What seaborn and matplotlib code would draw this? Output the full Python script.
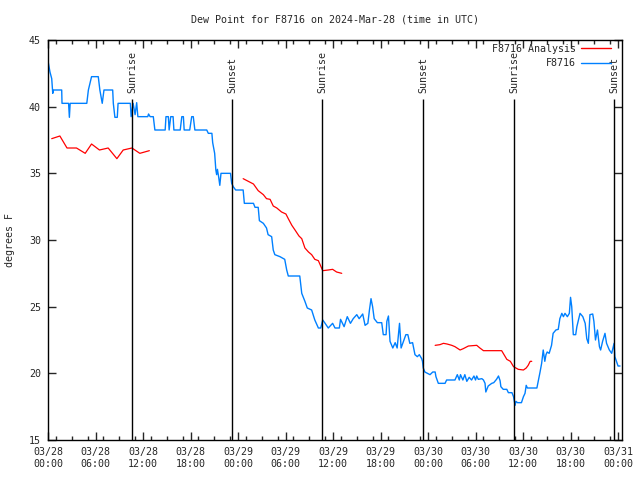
import numpy as np
import pandas as pd
import matplotlib
matplotlib.use("Agg")
import matplotlib.pyplot as plt
import matplotlib.dates as mdates
from matplotlib.lines import Line2D
import seaborn as sns

start = pd.Timestamp("2024-03-28 00:00")

# Observed dew point (hours since start, degF)
obs_hours = [0.04, 0.25, 0.47, 0.6, 0.7, 1.73, 1.77, 2.6, 2.7, 2.8, 4.9, 5.1, 5.5, 6.35, 6.55, 6.85,
             7.07, 8.17, 8.25, 8.45, 8.75, 8.85, 10.4, 10.5, 10.75, 11.0, 11.2, 11.35, 12.6, 12.7,
             12.9, 13.3, 13.5, 14.8, 14.9, 15.2, 15.3, 15.5, 15.8, 15.9, 16.7, 16.9, 17.1, 17.2,
             17.9, 18.15, 18.35, 18.55, 20.05, 20.25, 20.7, 20.8, 21.05, 21.2, 21.3, 21.4, 21.55,
             21.7, 21.85, 23.05, 23.2, 23.4, 23.7, 24.65, 24.8, 25.95, 26.15, 26.55, 26.7, 27.2,
             27.6, 27.8, 28.25, 28.45, 28.65, 29.3, 29.9, 30.15, 30.35, 31.8, 32.05, 32.45, 32.75,
             33.3, 33.7, 34.15, 34.45, 34.7, 35.0, 35.4, 35.95, 36.25, 36.8, 36.95, 37.4, 37.8,
             38.2, 38.55, 39.0, 39.3, 39.75, 40.05, 40.4, 40.6, 40.8, 41.0, 41.2, 41.6, 42.15,
             42.35, 42.7, 42.8, 43.0, 43.2, 43.55, 43.85, 44.1, 44.4, 44.6, 44.9, 45.2, 45.45,
             45.7, 46.05, 46.35, 46.65, 46.9, 47.2, 47.3, 47.4, 47.6, 48.25, 48.6, 48.9, 49.0,
             49.3, 50.15, 50.35, 51.2, 51.4, 51.7, 51.95, 52.1, 52.4, 52.65, 52.9, 53.2, 53.5,
             53.8, 54.0, 54.15, 54.35, 54.8, 55.0, 55.2, 55.3, 55.6, 56.05, 56.3, 56.65, 56.9,
             57.1, 57.2, 57.5, 57.95, 58.15, 58.6, 58.8, 59.0, 59.1, 59.3, 59.8, 60.05, 60.25,
             60.4, 60.55, 61.75, 61.95, 62.15, 62.35, 62.55, 62.75, 62.9, 63.05, 63.3, 63.6,
             63.8, 64.15, 64.45, 64.65, 64.9, 65.1, 65.3, 65.6, 65.85, 66.0, 66.15, 66.35, 66.65,
             66.8, 67.0, 67.2, 67.55, 67.85, 68.05, 68.25, 68.45, 68.8, 68.95, 69.15, 69.4,
             69.65, 69.8, 70.05, 70.35, 70.55, 70.9, 71.2, 71.5, 71.6, 71.8, 72.0, 72.25]
obs_values = [43.3, 42.6, 42.1, 41.0, 41.25, 41.25, 40.25, 40.25, 39.2, 40.25, 40.25, 41.25, 42.25,
              42.25, 41.25, 40.25, 41.25, 41.25, 40.25, 39.2, 39.2, 40.25, 40.25, 39.25, 40.25,
              39.4, 40.3, 39.25, 39.25, 39.45, 39.25, 39.25, 38.25, 38.25, 39.25, 39.25, 38.25,
              39.25, 39.25, 38.25, 38.25, 39.25, 39.25, 38.25, 38.25, 39.25, 39.25, 38.25, 38.25,
              38.0, 38.0, 37.3, 36.5, 35.25, 34.9, 35.3, 34.75, 34.1, 35.0, 35.0, 34.25, 34.0,
              33.75, 33.75, 32.75, 32.75, 32.45, 32.45, 31.45, 31.25, 30.9, 30.4, 30.25, 29.25,
              28.9, 28.75, 28.55, 27.75, 27.3, 27.3, 26.0, 25.4, 24.9, 24.75, 24.0, 23.4, 23.4,
              24.0, 23.75, 23.4, 23.75, 23.4, 23.4, 24.05, 23.5, 24.25, 23.75, 24.1, 24.4, 24.1,
              24.45, 23.6, 23.75, 24.75, 25.6, 25.0, 24.1, 23.8, 23.8, 22.9, 22.9, 23.9, 24.3,
              22.4, 21.9, 22.3, 21.9, 23.75, 21.9, 22.4, 22.9, 22.9, 22.25, 22.3, 21.4, 21.25,
              21.4, 21.1, 20.9, 20.4, 20.1, 19.9, 20.1, 20.1, 19.75, 19.25, 19.25, 19.5, 19.5,
              19.5, 19.9, 19.5, 19.9, 19.5, 19.9, 19.4, 19.7, 19.5, 19.8, 19.5, 19.8, 19.55,
              19.6, 19.5, 19.25, 18.6, 19.05, 19.25, 19.3, 19.55, 19.8, 19.45, 19.0, 18.8, 18.8,
              18.55, 18.55, 18.25, 17.6, 17.9, 17.8, 17.8, 18.25, 18.5, 19.1, 18.9, 18.9, 19.5,
              20.1, 20.75, 21.75, 20.9, 21.4, 21.6, 21.5, 22.1, 23.0, 23.25, 23.3, 24.1, 24.5,
              24.25, 24.5, 24.25, 24.5, 25.7, 25.0, 22.9, 22.9, 23.5, 24.0, 24.5, 24.25, 23.75,
              22.6, 22.25, 24.4, 24.45, 23.9, 22.5, 23.25, 22.0, 21.75, 22.4, 23.0, 22.25, 21.75,
              21.5, 22.25, 21.25, 20.9, 20.55, 20.55]

# Analysis dew point, three separate runs
ana1_hours = [0.47, 1.5, 2.4, 3.6, 4.7, 5.5, 6.5, 7.6, 8.7, 9.5, 10.6, 11.6, 12.8]
ana1_values = [37.6, 37.8, 36.9, 36.9, 36.5, 37.2, 36.75, 36.9, 36.1, 36.75, 36.9, 36.5, 36.7]
ana2_hours = [24.65, 25.3, 25.95, 26.55, 27.2, 27.6, 28.05, 28.45, 28.9, 29.5, 30.05, 30.35, 30.8,
              31.2, 31.7, 32.05, 32.45, 32.9, 33.3, 33.7, 34.15, 34.7, 35.4, 35.95, 36.45, 37.1]
ana2_values = [34.6, 34.4, 34.2, 33.7, 33.4, 33.1, 33.05, 32.55, 32.4, 32.1, 31.95, 31.6, 31.1,
               30.75, 30.3, 30.1, 29.4, 29.1, 28.9, 28.55, 28.45, 27.7, 27.75, 27.8, 27.6, 27.5]
ana3_hours = [48.9, 49.5, 49.95, 50.4, 51.0, 51.4, 52.05, 52.45, 53.1, 54.15, 54.55, 55.0, 55.6,
              57.3, 57.6, 57.95, 58.4, 58.8, 59.4, 60.05, 60.4, 60.65, 60.9, 61.1]
ana3_values = [22.1, 22.15, 22.25, 22.2, 22.1, 22.0, 21.75, 21.85, 22.05, 22.1, 21.9, 21.7, 21.7,
               21.7, 21.4, 21.05, 20.9, 20.5, 20.3, 20.25, 20.4, 20.6, 20.9, 20.9]

sunrise_hours = [10.6, 34.65, 58.85]
sunset_hours = [23.25, 47.35, 71.5]

title = "Dew Point for F8716 on 2024-Mar-28 (time in UTC)"
ylabel = "degrees F"
obs_label = "F8716"
ana_label = "F8716 Analysis"

obs_color = "#0080ff"
ana_color = "#ff0000"
FS = 7.2


def to_time(hours):
    return start + pd.to_timedelta(np.asarray(hours, dtype=float), unit="h")


sns.set_style("ticks")
plt.rcParams["font.family"] = ["DejaVu Sans Mono", "DejaVu Sans"]

fig = plt.figure(figsize=(6.4, 4.8), dpi=100)
ax = fig.add_axes([48 / 640, 40 / 480, 574 / 640, 400 / 480])

obs_df = pd.DataFrame({"time": to_time(obs_hours), "value": obs_values})
sns.lineplot(data=obs_df, x="time", y="value", ax=ax, color=obs_color, lw=1.0,
             estimator=None, sort=False, legend=False)

for hrs, vals in [(ana1_hours, ana1_values), (ana2_hours, ana2_values), (ana3_hours, ana3_values)]:
    df = pd.DataFrame({"time": to_time(hrs), "value": vals})
    sns.lineplot(data=df, x="time", y="value", ax=ax, color=ana_color, lw=0.9,
                 estimator=None, sort=False, legend=False)

# Sunrise / sunset markers
for hrs, name in [(sunrise_hours, "Sunrise"), (sunset_hours, "Sunset")]:
    times = to_time(hrs)
    ax.vlines(times, 15, 40.6, color="black", lw=1.0)
    for t in times:
        ax.text(t, 41.0, name, rotation=90, ha="center", va="bottom", fontsize=FS)

ax.set_xlim(start, start + pd.Timedelta(hours=72.5))
ax.set_ylim(15, 45)
ax.set_yticks([15, 20, 25, 30, 35, 40, 45])
ax.xaxis.set_major_locator(mdates.HourLocator(byhour=[0, 6, 12, 18]))
ax.xaxis.set_minor_locator(mdates.HourLocator(interval=2))
ax.xaxis.set_major_formatter(mdates.DateFormatter("%m/%d\n%H:%M"))
ax.tick_params(axis="both", which="major", direction="in", length=6, width=1,
               top=True, right=True, labelsize=FS, pad=5)
ax.tick_params(axis="x", which="minor", direction="in", length=3, width=1, top=True)
for s in ax.spines.values():
    s.set_linewidth(1.0)
    s.set_color("black")

ax.set_xlabel("")
ax.set_ylabel(ylabel, fontsize=FS, labelpad=10)
fig.text(335 / 640, 1 - 19 / 480, title, ha="center", va="center", fontsize=FS)

handles = [Line2D([], [], color=ana_color, lw=1.0), Line2D([], [], color=obs_color, lw=1.0)]
ax.legend(handles, [ana_label, obs_label], loc="upper right",
          bbox_to_anchor=((611 - 48) / 574, (440 - 44) / 400), frameon=False,
          markerfirst=False, fontsize=FS, handlelength=3.0, handletextpad=0.5,
          labelspacing=0.45, borderaxespad=0, borderpad=0)

fig.savefig("out.png", dpi=100)
